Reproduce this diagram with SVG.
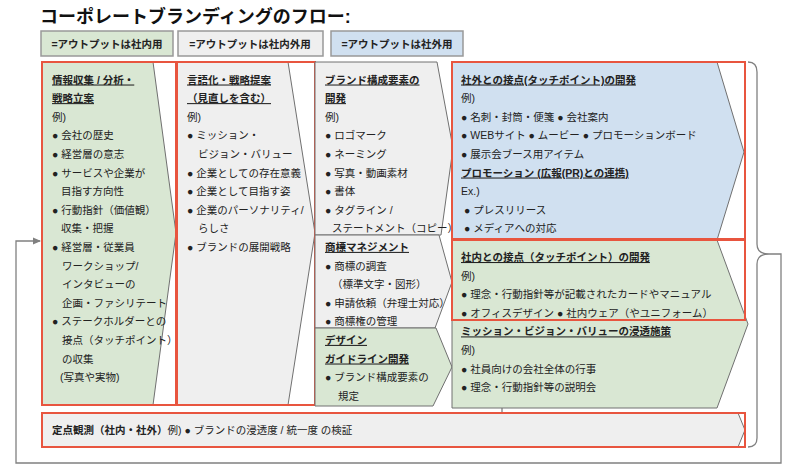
<svg xmlns="http://www.w3.org/2000/svg" width="800" height="471" viewBox="0 0 800 471">
<defs>
<style>
text{font-family:"Liberation Sans","Noto Sans CJK JP",sans-serif;font-size:10.5px;fill:#222}
.h{font-weight:bold;text-decoration:underline}
.b{font-weight:bold}
.title{font-size:18px;font-weight:bold;fill:#111}
.leg{font-size:10.5px;font-weight:bold;text-anchor:middle}
.g{fill:#d9e7d3;stroke:#707070;stroke-width:1}
.gr{fill:#efefef;stroke:#707070;stroke-width:1}
.bl{fill:#d0e0f0;stroke:#707070;stroke-width:1}
.red{fill:none;stroke:#e8553f;stroke-width:2}
.lg{stroke:#999;stroke-width:1.5}
.conn{fill:none;stroke:#808080;stroke-width:1.3}
</style>
<marker id="arr" markerWidth="8" markerHeight="8" refX="7" refY="4" orient="auto" markerUnits="userSpaceOnUse">
<path d="M0,0.5 L8,4 L0,7.5 Z" fill="#808080"/>
</marker>
</defs>
<rect width="800" height="471" fill="#fff"/>

<text class="title" x="40" y="23">コーポレートブランディングのフロー:</text>

<g id="legend">
<rect class="g lg" x="41" y="31" width="132" height="25"/>
<text class="leg" x="107" y="47.5">=アウトプットは社内用</text>
<rect class="gr lg" x="178" y="31" width="145" height="25"/>
<text class="leg" x="250" y="47.5">=アウトプットは社内外用</text>
<rect class="bl lg" x="331" y="31" width="132" height="25"/>
<text class="leg" x="397" y="47.5">=アウトプットは社外用</text>
</g>

<g id="connectors">
<path class="conn" d="M748,62 Q757,62 757,72 L757,244 Q757,254 769,254 Q757,254 757,264 L757,438 Q757,447 748,447"/>
<path class="conn" d="M769,254 L781,254 L781,463 L16,463 L16,241 L40,241" marker-end="url(#arr)"/>
<path class="conn" d="M502,408 L502,413"/>
</g>

<g id="node-research">
<polygon class="g" points="42,62 153,62 176,233 153,405 42,405"/>
<rect class="red" x="42" y="62" width="134" height="343"/>
<text class="h" x="52" y="83.5">情報収集 / 分析・</text>
<text class="h" x="52" y="102.1">戦略立案</text>
<text x="52" y="120.7">例)</text>
<text x="52" y="139.3">● 会社の歴史</text>
<text x="52" y="157.9">● 経営層の意志</text>
<text x="52" y="176.5">● サービスや企業が</text>
<text x="61" y="195.1">目指す方向性</text>
<text x="52" y="213.7">● 行動指針（価値観）</text>
<text x="61" y="232.3">収集・把握</text>
<text x="52" y="250.9">● 経営層・従業員</text>
<text x="62" y="269.5">ワークショップ/</text>
<text x="62" y="288.1">インタビューの</text>
<text x="62" y="306.7">企画・ファシリテート</text>
<text x="52" y="325.3">● ステークホルダーとの</text>
<text x="62" y="343.9">接点（タッチポイント）</text>
<text x="62" y="362.5">の収集</text>
<text x="60" y="381.1">(写真や実物)</text>
</g>

<g id="node-verbalize">
<polygon class="gr" points="177,62 288,62 315,233 288,405 177,405"/>
<rect class="red" x="177" y="62" width="138" height="343"/>
<text class="h" x="187" y="83.5">言語化・戦略提案</text>
<text class="h" x="187" y="102.1">（見直しを含む）</text>
<text x="187" y="120.7">例)</text>
<text x="187" y="139.3">● ミッション・</text>
<text x="198" y="157.9">ビジョン・バリュー</text>
<text x="187" y="176.5">● 企業としての存在意義</text>
<text x="187" y="195.1">● 企業として目指す姿</text>
<text x="187" y="213.7">● 企業のパーソナリティ/</text>
<text x="198" y="232.3">らしさ</text>
<text x="187" y="250.9">● ブランドの展開戦略</text>
</g>

<g id="node-brand-elements">
<polygon class="gr" points="315,62 437,62 453,148 441,235 315,235"/>
<text class="h" x="325" y="83.5">ブランド構成要素の</text>
<text class="h" x="325" y="102.1">開発</text>
<text x="325" y="120.7">例)</text>
<text x="325" y="139.3">● ロゴマーク</text>
<text x="325" y="157.9">● ネーミング</text>
<text x="325" y="176.5">● 写真・動画素材</text>
<text x="325" y="195.1">● 書体</text>
<text x="325" y="213.7">● タグライン /</text>
<text x="332" y="232.3">ステートメント（コピー）</text>
</g>

<g id="node-trademark">
<polygon class="gr" points="315,235 439,235 452,282 435,328 315,328"/>
<text class="h" x="325" y="250.9">商標マネジメント</text>
<text x="325" y="269.5">● 商標の調査</text>
<text x="332" y="288.1">（標準文字・図形）</text>
<text x="325" y="306.7">● 申請依頼（弁理士対応）</text>
<text x="325" y="325.3">● 商標権の管理</text>
</g>

<g id="node-guideline">
<polygon class="g" points="315,328 436,328 452,367 433,406 315,406"/>
<text class="h" x="325" y="343.9">デザイン</text>
<text class="h" x="325" y="362.5">ガイドライン開発</text>
<text x="325" y="381.1">● ブランド構成要素の</text>
<text x="338" y="399.7">規定</text>
</g>

<g id="node-external">
<polygon class="bl" points="452,62 717,62 744,152 717,240 452,240"/>
<rect class="red" x="452" y="62" width="293" height="177"/>
<text class="h" x="461" y="83.5">社外との接点(タッチポイント)の開発</text>
<text x="461" y="102.1">例)</text>
<text x="461" y="120.7">● 名刺・封筒・便箋 ● 会社案内</text>
<text x="461" y="139.3">● WEBサイト ● ムービー ● プロモーションボード</text>
<text x="461" y="157.9">● 展示会ブース用アイテム</text>
<text class="h" x="461" y="176.5">プロモーション (広報(PR)との連携)</text>
<text x="461" y="195.1">Ex.)</text>
<text x="464" y="213.7">● プレスリリース</text>
<text x="464" y="232.3">● メディアへの対応</text>
</g>

<g id="node-internal">
<polygon class="g" points="452,240 717,240 748,324 717,408 452,408"/>
<rect class="red" x="452" y="240" width="293" height="80"/>
<text class="h" x="461" y="261">社内との接点（タッチポイント）の開発</text>
<text x="461" y="279.6">例)</text>
<text x="461" y="298.2">● 理念・行動指針等が記載されたカードやマニュアル</text>
<text x="461" y="316.8">● オフィスデザイン  ● 社内ウェア（やユニフォーム）</text>
<text class="h" x="461" y="335.4">ミッション・ビジョン・バリューの浸透施策</text>
<text x="461" y="354">例)</text>
<text x="461" y="372.6">● 社員向けの会社全体の行事</text>
<text x="461" y="391.2">● 理念・行動指針等の説明会</text>
</g>

<g id="node-monitoring">
<polygon class="gr" points="42,413 738,413 745,430 738,447 42,447"/>
<rect class="red" x="42" y="413" width="703" height="34"/>
<text x="52" y="434"><tspan class="b">定点観測（社内・社外）</tspan>例) ● ブランドの浸透度 / 統一度 の検証</text>
</g>
</svg>
